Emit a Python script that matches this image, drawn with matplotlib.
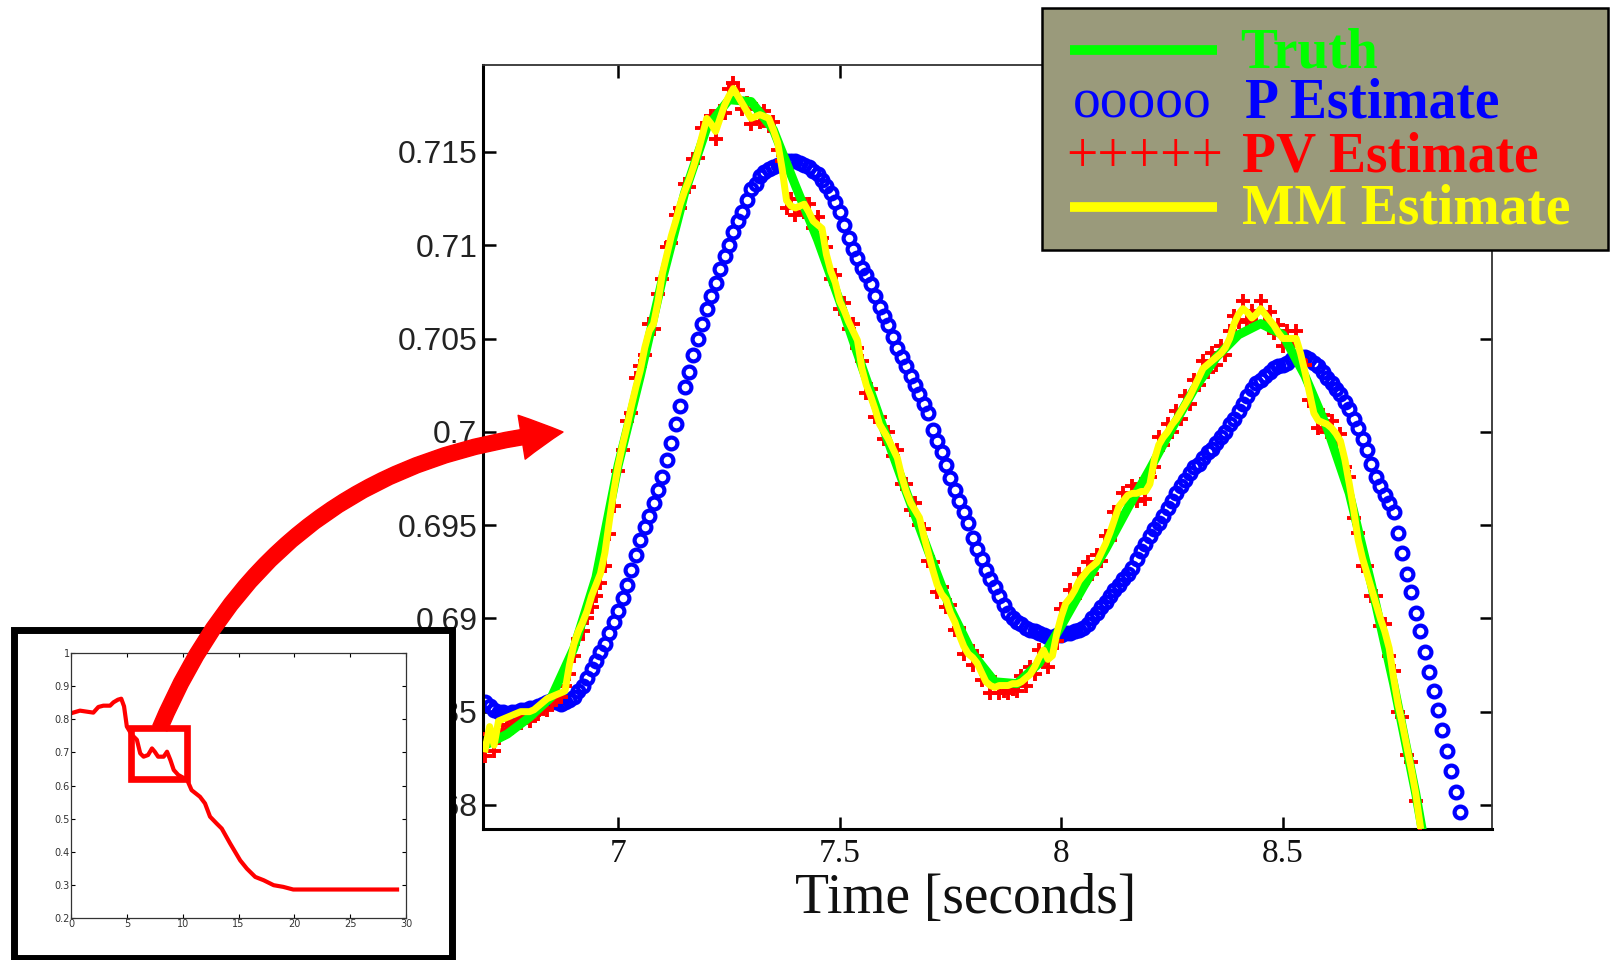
#!/usr/bin/env python3
"""
Zoomed comparison of the truth signal against the P, PV and MM estimates,
with the full-length run shown as a small inset (the red box marks the zoom).

Writes out.png (1613x960).
"""

import numpy as np
import matplotlib
matplotlib.use("Agg")
import matplotlib.pyplot as plt
from matplotlib.patches import Rectangle, FancyArrowPatch, ArrowStyle
from matplotlib.lines import Line2D

# ---------------------------------------------------------------------------
# Data
# ---------------------------------------------------------------------------
T0 = 6.70      # first sample time (s)
DT = 0.01      # sample interval of the estimates (s)

# truth, drawn as a line
truth_t = [6.70, 6.75, 6.80, 6.85, 6.90, 6.95, 7.00, 7.05, 7.10, 7.15,
           7.20, 7.25, 7.30, 7.35, 7.40, 7.45, 7.50, 7.55, 7.60, 7.65,
           7.70, 7.75, 7.80, 7.85, 7.90, 7.95, 8.00, 8.05, 8.10, 8.15,
           8.20, 8.25, 8.30, 8.35, 8.40, 8.45, 8.50, 8.55, 8.60, 8.65,
           8.70, 8.75, 8.80, 8.815]
truth_v = [0.6832, 0.6838, 0.6847, 0.6858, 0.6884, 0.6922, 0.6982, 0.7030, 0.7082, 0.7128,
           0.7163, 0.7178, 0.7177, 0.7162, 0.7132, 0.7103, 0.7070, 0.7035, 0.7001, 0.6968,
           0.6936, 0.6905, 0.6881, 0.6866, 0.6865, 0.6876, 0.6896, 0.6917, 0.6937, 0.6959,
           0.6980, 0.7002, 0.7023, 0.7040, 0.7052, 0.7058, 0.7052, 0.7030, 0.7002, 0.6967,
           0.6918, 0.6865, 0.6806, 0.6786]

# P estimate, one value every DT from T0
p_est = [
    0.6855, 0.6853, 0.6851, 0.6850, 0.6850, 0.6849, 0.6850, 0.6850, 0.6851, 0.6851,
    0.6852, 0.6852, 0.6853, 0.6854, 0.6855, 0.6856, 0.6855, 0.6854, 0.6855, 0.6856,
    0.6858, 0.6861, 0.6864, 0.6868, 0.6873, 0.6877, 0.6882, 0.6886, 0.6892, 0.6898,
    0.6904, 0.6911, 0.6918, 0.6926, 0.6934, 0.6942, 0.6949, 0.6955, 0.6962, 0.6969,
    0.6976, 0.6985, 0.6994, 0.7004, 0.7014, 0.7024, 0.7032, 0.7041, 0.7050, 0.7058,
    0.7066, 0.7073, 0.7080, 0.7087, 0.7094, 0.7100, 0.7107, 0.7113, 0.7118, 0.7124,
    0.7130, 0.7133, 0.7137, 0.7139, 0.7141, 0.7142, 0.7143, 0.7144, 0.7145, 0.7145,
    0.7145, 0.7144, 0.7143, 0.7142, 0.7140, 0.7138, 0.7135, 0.7132, 0.7128, 0.7123,
    0.7118, 0.7111, 0.7104, 0.7098, 0.7093, 0.7088, 0.7084, 0.7079, 0.7073, 0.7067,
    0.7062, 0.7057, 0.7051, 0.7045, 0.7040, 0.7035, 0.7030, 0.7025, 0.7020, 0.7015,
    0.7010, 0.7001, 0.6995, 0.6989, 0.6982, 0.6975, 0.6969, 0.6963, 0.6957, 0.6951,
    0.6943, 0.6937, 0.6932, 0.6926, 0.6921, 0.6917, 0.6912, 0.6907, 0.6903, 0.6900,
    0.6898, 0.6897, 0.6895, 0.6894, 0.6893, 0.6892, 0.6891, 0.6890, 0.6890, 0.6891,
    0.6891, 0.6892, 0.6892, 0.6893, 0.6894, 0.6895, 0.6897, 0.6900, 0.6903, 0.6906,
    0.6909, 0.6912, 0.6915, 0.6918, 0.6921, 0.6924, 0.6927, 0.6932, 0.6936, 0.6940,
    0.6944, 0.6948, 0.6951, 0.6955, 0.6959, 0.6963, 0.6967, 0.6971, 0.6974, 0.6978,
    0.6981, 0.6983, 0.6986, 0.6989, 0.6991, 0.6994, 0.6997, 0.7000, 0.7004, 0.7007,
    0.7011, 0.7015, 0.7019, 0.7023, 0.7026, 0.7028, 0.7030, 0.7032, 0.7034, 0.7035,
    0.7036, 0.7037, 0.7039, 0.7040, 0.7040, 0.7040, 0.7039, 0.7037, 0.7035, 0.7032,
    0.7029, 0.7026, 0.7023, 0.7020, 0.7016, 0.7012, 0.7007, 0.7002, 0.6996, 0.6990,
    0.6983, 0.6976, 0.6971, 0.6966, 0.6962, 0.6957, 0.6946, 0.6935, 0.6924, 0.6914,
    0.6903, 0.6893, 0.6882, 0.6871, 0.6861, 0.6851, 0.6840, 0.6829, 0.6818, 0.6807,
    0.6796,
]

# PV estimate, one value every DT from T0
pv_est = [
    0.6826, 0.6838, 0.6829, 0.6836, 0.6840, 0.6843, 0.6841, 0.6845, 0.6844, 0.6847,
    0.6845, 0.6848, 0.6849, 0.6852, 0.6851, 0.6855, 0.6856, 0.6858, 0.6864, 0.6870,
    0.6880, 0.6889, 0.6893, 0.6900, 0.6906, 0.6912, 0.6919, 0.6928, 0.6945, 0.6960,
    0.6979, 0.6990, 0.7006, 0.7010, 0.7029, 0.7035, 0.7041, 0.7058, 0.7055, 0.7074,
    0.7082, 0.7099, 0.7101, 0.7116, 0.7120, 0.7133, 0.7131, 0.7146, 0.7147, 0.7163,
    0.7164, 0.7169, 0.7157, 0.7172, 0.7171, 0.7184, 0.7187, 0.7183, 0.7173, 0.7176,
    0.7165, 0.7173, 0.7166, 0.7172, 0.7164, 0.7166, 0.7151, 0.7145, 0.7120, 0.7125,
    0.7116, 0.7125, 0.7118, 0.7122, 0.7109, 0.7115, 0.7104, 0.7099, 0.7082, 0.7084,
    0.7066, 0.7069, 0.7055, 0.7058, 0.7045, 0.7038, 0.7021, 0.7023, 0.7008, 0.7008,
    0.6996, 0.7000, 0.6987, 0.6990, 0.6972, 0.6972, 0.6958, 0.6962, 0.6950, 0.6948,
    0.6931, 0.6930, 0.6914, 0.6917, 0.6906, 0.6907, 0.6894, 0.6895, 0.6881, 0.6885,
    0.6875, 0.6880, 0.6867, 0.6870, 0.6860, 0.6866, 0.6860, 0.6861, 0.6860, 0.6862,
    0.6861, 0.6869, 0.6864, 0.6874, 0.6870, 0.6883, 0.6879, 0.6874, 0.6884, 0.6888,
    0.6905, 0.6904, 0.6915, 0.6911, 0.6924, 0.6919, 0.6930, 0.6924, 0.6934, 0.6931,
    0.6944, 0.6942, 0.6957, 0.6956, 0.6967, 0.6962, 0.6971, 0.6963, 0.6972, 0.6964,
    0.6976, 0.6981, 0.6997, 0.6993, 0.7004, 0.7000, 0.7011, 0.7007, 0.7019, 0.7015,
    0.7028, 0.7025, 0.7038, 0.7032, 0.7042, 0.7036, 0.7046, 0.7041, 0.7054, 0.7062,
    0.7059, 0.7070, 0.7060, 0.7065, 0.7059, 0.7070, 0.7059, 0.7064, 0.7053, 0.7057,
    0.7046, 0.7054, 0.7046, 0.7054, 0.7038, 0.7036, 0.7017, 0.7014, 0.7002, 0.7009,
    0.7000, 0.7006, 0.6995, 0.6999, 0.6981, 0.6976, 0.6954, 0.6946, 0.6928, 0.6928,
    0.6912, 0.6912, 0.6896, 0.6897, 0.6880, 0.6872, 0.6850, 0.6847, 0.6827, 0.6823,
    0.6802, 0.6785,
]

# MM estimate, one value every DT from T0
mm_est = [
    0.6830, 0.6842, 0.6832, 0.6845, 0.6846, 0.6847, 0.6848, 0.6849, 0.6850, 0.6850,
    0.6850, 0.6851, 0.6853, 0.6855, 0.6857, 0.6858, 0.6859, 0.6860, 0.6861, 0.6875,
    0.6886, 0.6893, 0.6898, 0.6904, 0.6912, 0.6918, 0.6924, 0.6935, 0.6952, 0.6968,
    0.6982, 0.6993, 0.7003, 0.7014, 0.7024, 0.7033, 0.7045, 0.7054, 0.7058, 0.7070,
    0.7085, 0.7095, 0.7105, 0.7113, 0.7122, 0.7129, 0.7135, 0.7142, 0.7150, 0.7159,
    0.7168, 0.7165, 0.7161, 0.7168, 0.7175, 0.7180, 0.7184, 0.7180, 0.7176, 0.7172,
    0.7168, 0.7169, 0.7170, 0.7169, 0.7168, 0.7162, 0.7155, 0.7141, 0.7124, 0.7121,
    0.7120, 0.7121, 0.7122, 0.7118, 0.7113, 0.7111, 0.7109, 0.7095, 0.7086, 0.7080,
    0.7070, 0.7065, 0.7059, 0.7054, 0.7049, 0.7034, 0.7025, 0.7019, 0.7012, 0.7004,
    0.7000, 0.6996, 0.6991, 0.6986, 0.6976, 0.6968, 0.6962, 0.6958, 0.6954, 0.6944,
    0.6935, 0.6926, 0.6918, 0.6913, 0.6910, 0.6903, 0.6898, 0.6891, 0.6885, 0.6881,
    0.6879, 0.6876, 0.6871, 0.6866, 0.6864, 0.6863, 0.6864, 0.6864, 0.6864, 0.6865,
    0.6865, 0.6866, 0.6868, 0.6870, 0.6874, 0.6879, 0.6883, 0.6878, 0.6880, 0.6892,
    0.6901, 0.6908, 0.6911, 0.6915, 0.6920, 0.6923, 0.6926, 0.6928, 0.6930, 0.6935,
    0.6940, 0.6946, 0.6953, 0.6960, 0.6963, 0.6966, 0.6967, 0.6967, 0.6968, 0.6968,
    0.6972, 0.6985, 0.6993, 0.6997, 0.7000, 0.7004, 0.7007, 0.7011, 0.7015, 0.7019,
    0.7024, 0.7029, 0.7034, 0.7036, 0.7038, 0.7040, 0.7042, 0.7045, 0.7050, 0.7058,
    0.7063, 0.7066, 0.7064, 0.7061, 0.7063, 0.7066, 0.7063, 0.7060, 0.7057, 0.7053,
    0.7050, 0.7050, 0.7050, 0.7050, 0.7042, 0.7032, 0.7021, 0.7010, 0.7006, 0.7005,
    0.7004, 0.7002, 0.6999, 0.6995, 0.6985, 0.6972, 0.6958, 0.6942, 0.6932, 0.6924,
    0.6916, 0.6908, 0.6900, 0.6893, 0.6884, 0.6868, 0.6854, 0.6843, 0.6831, 0.6819,
    0.6806, 0.6789,
]

# inset: the whole run
inset_t = [0, 0.8, 2.0, 2.45, 2.9, 3.5, 3.8, 4.2, 4.5, 4.75, 5.0, 5.45, 5.9,
           6.2, 6.5, 6.9, 7.25, 7.5, 7.8, 8.3, 8.6, 8.9, 9.2, 9.6, 10.4,
           10.8, 11.55, 12.0, 12.45, 13.05, 13.5, 14.25, 15.15, 15.75,
           16.5, 17.25, 18.15, 19.0, 19.9, 29.2]
inset_v = [0.818, 0.826, 0.820, 0.837, 0.841, 0.841, 0.851, 0.859, 0.862, 0.839,
           0.778, 0.753, 0.738, 0.697, 0.687, 0.692, 0.712, 0.702, 0.687, 0.687,
           0.702, 0.677, 0.647, 0.632, 0.617, 0.586, 0.566, 0.546, 0.506, 0.485,
           0.470, 0.425, 0.374, 0.349, 0.324, 0.314, 0.299, 0.294, 0.286, 0.286]
zoom_box = (5.4, 0.62, 10.37, 0.773)   # x0, y0, x1, y1 of the red zoom box

y_ticks = [0.68, 0.685, 0.69, 0.695, 0.70, 0.705, 0.71, 0.715]
y_ticklabels = ["0.68", "0.685", "0.69", "0.695", "0.7", "0.705", "0.71", "0.715"]
x_ticks = [7, 7.5, 8, 8.5]
x_ticklabels = ["7", "7.5", "8", "8.5"]

legend_labels = ["Truth", "P Estimate", "PV Estimate", "MM Estimate"]
legend_colors = ["#00ff00", "#0000ff", "#ff0000", "#ffff00"]

# ---------------------------------------------------------------------------
# Layout helpers (pixel -> figure fraction)
# ---------------------------------------------------------------------------
W, H, DPI = 1613, 960, 100
SERIF = "Liberation Serif"
SANS = "Liberation Sans"


def fx(px):
    return px / W


def fy(py):
    return 1.0 - py / H


fig = plt.figure(figsize=(W / DPI, H / DPI), dpi=DPI)
fig.patch.set_facecolor("white")

# ---------------------------------------------------------------------------
# Main (zoomed) axes
# ---------------------------------------------------------------------------
ax = fig.add_axes([fx(483), fy(829), fx(1492) - fx(483), fy(65) - fy(829)])

t_p = T0 + DT * np.arange(len(p_est))
t_pv = T0 + DT * np.arange(len(pv_est))
t_mm = T0 + DT * np.arange(len(mm_est))

ax.plot(t_p, p_est, ls="none", marker="o", ms=8.5, mfc="none",
        mec=legend_colors[1], mew=3.0, zorder=2)
ax.plot(t_pv, pv_est, ls="none", marker="+", ms=10, mec=legend_colors[2],
        mew=2.8, zorder=3)
ax.plot(truth_t, truth_v, color=legend_colors[0], lw=6.5, zorder=4)
ax.plot(t_mm, mm_est, color=legend_colors[3], lw=5.0, zorder=5)

ax.set_xlim(6.695, 8.972)
ax.set_ylim(0.67871, 0.71966)
ax.set_xticks(x_ticks)
ax.set_xticklabels(x_ticklabels, fontfamily=SERIF, fontsize=24, color="#111")
ax.set_yticks(y_ticks)
ax.set_yticklabels(y_ticklabels, fontfamily=SANS, fontsize=23, color="#222")
ax.tick_params(direction="in", length=9, width=1.8, top=True, right=True)
ax.tick_params(axis="x", pad=7)
ax.tick_params(axis="y", pad=4)
for side in ("left", "bottom"):
    ax.spines[side].set_linewidth(2.2)
    ax.spines[side].set_color("black")
for side in ("top", "right"):
    ax.spines[side].set_linewidth(1.3)
    ax.spines[side].set_color("#333333")

fig.text(fx(966), fy(913), "Time [seconds]", fontfamily=SERIF, fontsize=40,
         ha="center", va="baseline", color="#111")

# ---------------------------------------------------------------------------
# Inset with the full run
# ---------------------------------------------------------------------------
fig.add_artist(Rectangle((fx(13.5), fy(958)), fx(451.5) - fx(13.5),
                         fy(629.5) - fy(958), transform=fig.transFigure,
                         facecolor="white", edgecolor="black", lw=5, zorder=1))

ax_in = fig.add_axes([fx(71), fy(918), fx(406) - fx(71), fy(653) - fy(918)])
ax_in.set_zorder(2)
ax_in.plot(inset_t, inset_v, color="red", lw=3.0)
bx0, by0, bx1, by1 = zoom_box
ax_in.add_patch(Rectangle((bx0, by0), bx1 - bx0, by1 - by0, fill=False,
                          edgecolor="red", lw=4.8, zorder=4))
ax_in.set_xlim(0, 30)
ax_in.set_ylim(0.2, 1.0)
ax_in.set_xticks(range(0, 31, 5))
ax_in.set_yticks([0.2, 0.3, 0.4, 0.5, 0.6, 0.7, 0.8, 0.9, 1.0])
ax_in.set_yticklabels(["0.2", "0.3", "0.4", "0.5", "0.6", "0.7", "0.8", "0.9", "1"])
ax_in.tick_params(direction="in", length=3, width=0.8, top=True, right=True,
                  labelsize=7, labelcolor="#333333", pad=1)
for side in ax_in.spines.values():
    side.set_linewidth(0.9)
    side.set_color("#333333")

# big red arrow from the zoom box to the main axes
arrow = FancyArrowPatch(
    posA=(fx(160), fy(728)), posB=(fx(563), fy(432)),
    transform=fig.transFigure, connectionstyle="arc3,rad=-0.3",
    arrowstyle=ArrowStyle.Simple(head_length=30, head_width=32, tail_width=11),
    mutation_scale=1, color="red", shrinkA=0, shrinkB=0, zorder=3)
fig.add_artist(arrow)

# ---------------------------------------------------------------------------
# Legend box, drawn by hand
# ---------------------------------------------------------------------------
fig.add_artist(Rectangle((fx(1042), fy(250)), fx(1608) - fx(1042),
                         fy(8) - fy(250), transform=fig.transFigure,
                         facecolor="#9a9a7b", edgecolor="black", lw=1.8,
                         zorder=6))

for y_px, col in ((50, legend_colors[0]), (207, legend_colors[3])):
    fig.add_artist(Line2D([fx(1070), fx(1217)], [fy(y_px), fy(y_px)],
                          transform=fig.transFigure, color=col, lw=7,
                          solid_capstyle="butt", zorder=7))

fig.text(fx(1073), fy(117), "ooooo", color=legend_colors[1], fontsize=40,
         fontfamily=SERIF, va="baseline", zorder=7)
fig.text(fx(1066), fy(172), "+++++", color=legend_colors[2], fontsize=40,
         fontfamily=SERIF, va="baseline", zorder=7)

label_pos = [(1240, 68), (1245, 117), (1242, 172), (1242, 223)]
for (x_px, y_px), lab, col in zip(label_pos, legend_labels, legend_colors):
    fig.text(fx(x_px), fy(y_px), lab, color=col, fontsize=40,
             fontweight="bold", fontfamily=SERIF, va="baseline", zorder=7)

fig.savefig("out.png", dpi=DPI)
